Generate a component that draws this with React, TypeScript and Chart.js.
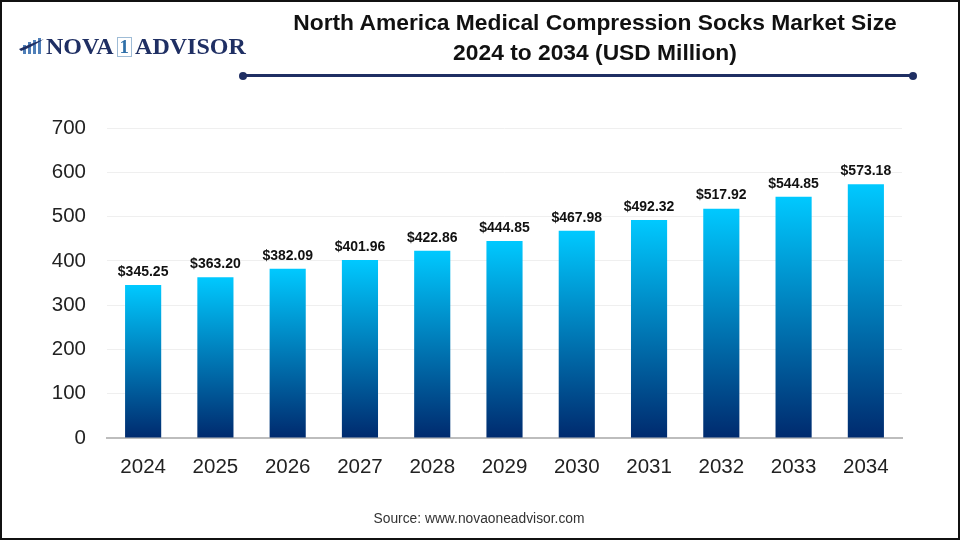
import { useEffect, useRef } from "react"
import { Chart, registerables } from "chart.js"

Chart.register(...registerables)

const years = ["2024", "2025", "2026", "2027", "2028", "2029", "2030", "2031", "2032", "2033", "2034"]
const marketSize = [345.25, 363.2, 382.09, 401.96, 422.86, 444.85, 467.98, 492.32, 517.92, 544.85, 573.18]

const NAVY = "#1f2f63"
const ARIAL = "'Liberation Sans', Arial, sans-serif"

// prints the dollar value above each bar
const valueLabels = {
  id: "valueLabels",
  afterDatasetsDraw(chart: Chart) {
    const { ctx } = chart
    const meta = chart.getDatasetMeta(0)
    ctx.save()
    ctx.font = `bold 14px ${ARIAL}`
    ctx.fillStyle = "#111111"
    ctx.textAlign = "center"
    ctx.textBaseline = "bottom"
    meta.data.forEach((bar, i) => {
      ctx.fillText("$" + marketSize[i].toFixed(2), bar.x, bar.y - 6)
    })
    ctx.restore()
  },
}

function App() {
  const canvasRef = useRef<HTMLCanvasElement>(null)

  useEffect(() => {
    document.body.style.margin = "0"
    if (!canvasRef.current) return

    const chart = new Chart(canvasRef.current, {
      type: "bar",
      data: {
        labels: years,
        datasets: [
          {
            data: marketSize,
            barPercentage: 0.5,
            categoryPercentage: 1,
            backgroundColor: (context: any) => {
              const { chart: c, parsed } = context
              if (!c.chartArea || !parsed) return "#00c8ff"
              const y = c.scales.y
              const g = c.ctx.createLinearGradient(0, y.getPixelForValue(parsed.y), 0, y.getPixelForValue(0))
              g.addColorStop(0, "#00c9ff")
              g.addColorStop(1, "#002a6e")
              return g
            },
          },
        ],
      },
      options: {
        animation: false,
        responsive: false,
        layout: { padding: { left: 0, right: 58, top: 128, bottom: 60 } },
        plugins: {
          legend: { display: false },
          tooltip: { enabled: false },
        },
        scales: {
          x: {
            grid: { display: false },
            border: { color: "#bdbdbd", width: 2 },
            afterFit: (scale: any) => {
              scale.height = 42
            },
            ticks: { color: "#222222", font: { family: ARIAL, size: 20.5 }, padding: 9, maxRotation: 0 },
          },
          y: {
            min: 0,
            max: 700,
            afterFit: (scale: any) => {
              scale.width = 107
            },
            grid: { color: "#efefef", drawTicks: false },
            border: { display: false },
            ticks: { stepSize: 100, color: "#222222", font: { family: ARIAL, size: 20.5 }, padding: 21 },
          },
        },
      },
      plugins: [valueLabels],
    })

    return () => {
      chart.destroy()
    }
  }, [])

  return (
    <div style={{ position: "relative", width: 960, height: 540, background: "#fff", overflow: "hidden" }}>
      <canvas ref={canvasRef} width={960} height={540} style={{ position: "absolute", left: 0, top: 0 }} />
      <div style={{ position: "absolute", inset: 0, border: "2px solid #111", boxSizing: "border-box" }} />

      {/* title */}
      <div
        style={{
          position: "absolute",
          left: 240,
          width: 710,
          top: 7,
          textAlign: "center",
          font: `bold 22.8px/30px ${ARIAL}`,
          color: "#111",
        }}
      >
        North America Medical Compression Socks Market Size
        <br />
        2024 to 2034 (USD Million)
      </div>

      {/* rule under the title */}
      <div style={{ position: "absolute", left: 243, width: 670, top: 74, height: 3, background: NAVY }} />
      <div style={{ position: "absolute", left: 239, top: 71.5, width: 8, height: 8, borderRadius: 4, background: NAVY }} />
      <div style={{ position: "absolute", left: 909, top: 71.5, width: 8, height: 8, borderRadius: 4, background: NAVY }} />

      {/* logo */}
      <svg style={{ position: "absolute", left: 18, top: 36 }} width={28} height={20}>
        <rect x={5} y={9} width={3} height={9} fill="#4f7fb8" />
        <rect x={10} y={6} width={3} height={12} fill="#4f7fb8" />
        <rect x={15} y={4} width={3} height={14} fill="#4f7fb8" />
        <rect x={20} y={2} width={3} height={16} fill="#4f7fb8" />
        <path d="M1 13 Q12 8 26 3 Q12 12 3 15 Z" fill={NAVY} />
      </svg>
      <div
        style={{
          position: "absolute",
          left: 46,
          top: 33,
          font: "bold 24px/26px 'Liberation Serif', serif",
          color: NAVY,
          whiteSpace: "nowrap",
        }}
      >
        NOVA
        <span
          style={{
            display: "inline-block",
            color: "#2f6fa8",
            border: "1px solid #9fbcd6",
            lineHeight: "18px",
            fontSize: 19,
            padding: "0 2px",
            margin: "0 3px",
            verticalAlign: 1,
          }}
        >
          1
        </span>
        ADVISOR
      </div>

      {/* source */}
      <div
        style={{
          position: "absolute",
          left: 0,
          width: 958,
          top: 511,
          textAlign: "center",
          font: `13.8px/16px ${ARIAL}`,
          color: "#333",
        }}
      >
        Source: www.novaoneadvisor.com
      </div>
    </div>
  )
}

export default App
